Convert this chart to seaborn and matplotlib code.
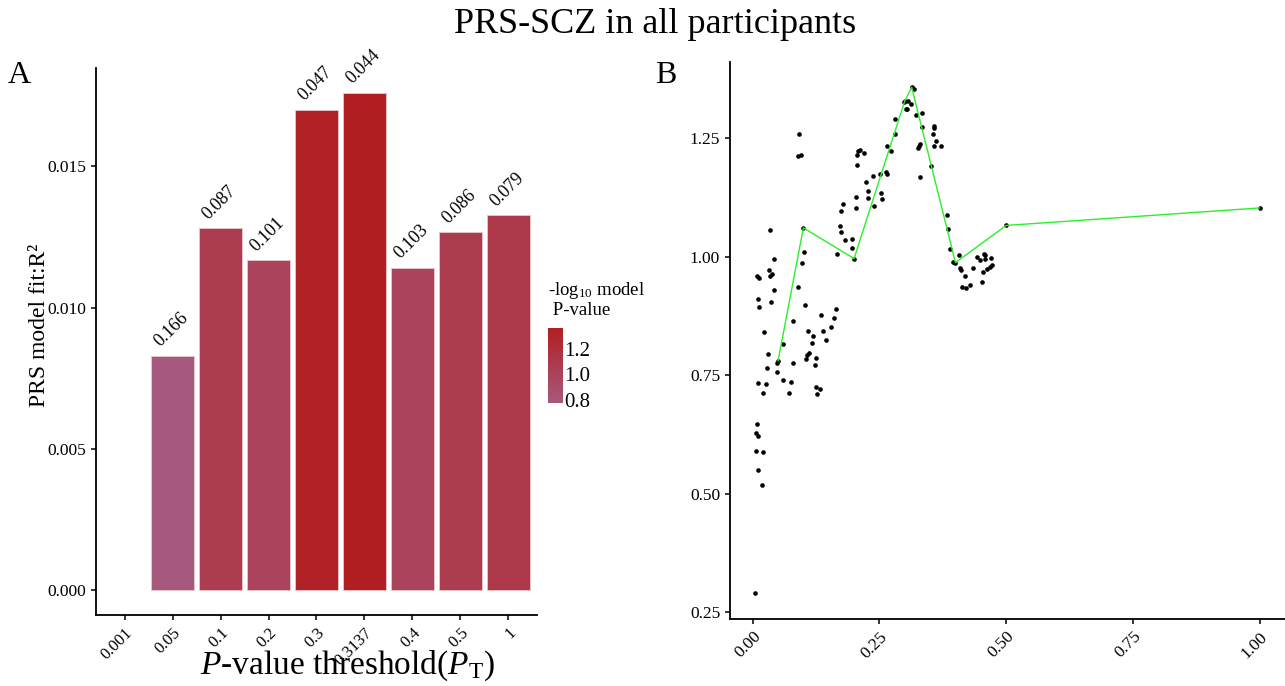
import numpy as np
import pandas as pd
import matplotlib
matplotlib.use("Agg")
import matplotlib.pyplot as plt
import seaborn as sns
from matplotlib.colors import LinearSegmentedColormap, Normalize
from matplotlib.cm import ScalarMappable

# ---------------- data ----------------
thresholds = ["0.001", "0.05", "0.1", "0.2", "0.3", "0.3137", "0.4", "0.5", "1"]
bar_thresholds = ["0.05", "0.1", "0.2", "0.3", "0.3137", "0.4", "0.5", "1"]
r2_values = [0.0083, 0.0128, 0.01167, 0.0170, 0.0176, 0.01141, 0.01266, 0.01327]
p_values = [0.166, 0.087, 0.101, 0.047, 0.044, 0.103, 0.086, 0.079]
p_labels = ["0.166", "0.087", "0.101", "0.047", "0.044", "0.103", "0.086", "0.079"]
line_x = [0.05, 0.1, 0.2, 0.3, 0.3137, 0.4, 0.5, 1.0]

scan_x = [0.091, 0.089, 0.096, 0.207, 0.211, 0.219, 0.206, 0.205, 0.224, 0.227,
          0.227, 0.204, 0.178, 0.175, 0.204, 0.034, 0.173, 0.175, 0.183, 0.196,
          0.196, 0.166, 0.102, 0.097, 0.042,
          0.032, 0.039, 0.035, 0.008, 0.012, 0.043, 0.089, 0.011, 0.036, 0.012,
          0.104, 0.165, 0.135, 0.161, 0.080, 0.154, 0.109, 0.139, 0.022, 0.119,
          0.145, 0.116, 0.060, 0.030, 0.112, 0.108, 0.106, 0.124, 0.048, 0.079,
          0.123, 0.028, 0.048, 0.060, 0.075, 0.010, 0.026, 0.021, 0.071, 0.124,
          0.133, 0.127,
          0.009, 0.007, 0.011, 0.006, 0.020, 0.010, 0.018, 0.005,
          0.319, 0.299, 0.306, 0.312, 0.303, 0.304, 0.322, 0.333, 0.281, 0.334,
          0.358, 0.358, 0.281, 0.355, 0.362, 0.372, 0.358, 0.331, 0.329, 0.327,
          0.265, 0.273, 0.352, 0.252, 0.262, 0.264, 0.238, 0.331, 0.254, 0.255,
          0.239, 0.383,
          0.385, 0.390, 0.407, 0.396, 0.409, 0.411, 0.419, 0.413, 0.421, 0.428,
          0.435, 0.442, 0.449, 0.457, 0.458, 0.459, 0.470, 0.454, 0.463, 0.469,
          0.472, 0.453]
scan_y = [1.258, 1.212, 1.215, 1.222, 1.224, 1.218, 1.213, 1.193, 1.157, 1.139,
          1.123, 1.125, 1.111, 1.095, 1.102, 1.055, 1.065, 1.051, 1.035, 1.037,
          1.017, 1.005, 1.009, 0.986, 0.994,
          0.972, 0.964, 0.960, 0.960, 0.954, 0.929, 0.936, 0.911, 0.905, 0.893,
          0.898, 0.890, 0.877, 0.871, 0.864, 0.851, 0.844, 0.843, 0.840, 0.832,
          0.823, 0.818, 0.816, 0.794, 0.797, 0.792, 0.784, 0.786, 0.775, 0.775,
          0.772, 0.765, 0.756, 0.740, 0.735, 0.734, 0.732, 0.713, 0.713, 0.724,
          0.720, 0.710,
          0.648, 0.629, 0.622, 0.590, 0.588, 0.549, 0.519, 0.290,
          1.354, 1.326, 1.328, 1.321, 1.310, 1.312, 1.299, 1.303, 1.289, 1.273,
          1.275, 1.271, 1.259, 1.258, 1.243, 1.232, 1.234, 1.238, 1.233, 1.229,
          1.232, 1.222, 1.191, 1.174, 1.179, 1.174, 1.169, 1.167, 1.134, 1.121,
          1.107, 1.088,
          1.057, 1.015, 1.004, 0.989, 0.975, 0.971, 0.959, 0.936, 0.933, 0.941,
          0.975, 1.000, 0.992, 1.006, 0.994, 1.004, 0.997, 0.967, 0.974, 0.978,
          0.982, 0.946]

a_yticks = [0.000, 0.005, 0.010, 0.015]
b_xticks = [0.00, 0.25, 0.50, 0.75, 1.00]
b_yticks = [0.25, 0.50, 0.75, 1.00, 1.25]
cbar_ticks = [0.8, 1.0, 1.2]

# ---------------- style ----------------
sns.set_theme(style="ticks")
plt.rcParams["font.family"] = ["Liberation Serif", "DejaVu Serif"]
plt.rcParams["mathtext.fontset"] = "custom"
plt.rcParams["mathtext.rm"] = "Liberation Serif"
plt.rcParams["mathtext.it"] = "Liberation Serif:italic"
plt.rcParams["axes.linewidth"] = 1.3
plt.rcParams["xtick.major.width"] = 1.1
plt.rcParams["ytick.major.width"] = 1.1
plt.rcParams["xtick.major.size"] = 3.5
plt.rcParams["ytick.major.size"] = 3.5
plt.rcParams["xtick.color"] = "black"
plt.rcParams["ytick.color"] = "black"
plt.rcParams["xtick.labelcolor"] = "black"
plt.rcParams["ytick.labelcolor"] = "black"
plt.rcParams["axes.edgecolor"] = "black"
plt.rcParams["text.color"] = "black"
plt.rcParams["axes.labelcolor"] = "black"

neglog = -np.log10(np.array(p_values))
cmap = LinearSegmentedColormap.from_list("prs", ["#A6597D", "#B21F22"])
norm = Normalize(vmin=neglog.min(), vmax=neglog.max())
palette = {t: cmap(norm(v)) for t, v in zip(bar_thresholds, neglog)}

fig = plt.figure(figsize=(12.85, 6.86), dpi=100)

# ---------------- panel A ----------------
axA = fig.add_axes([0.0747, 0.1035, 0.3432, 0.7974])
dfA = pd.DataFrame({"threshold": bar_thresholds, "r2": r2_values})
sns.barplot(data=dfA, x="threshold", y="r2", order=thresholds, hue="threshold",
            hue_order=bar_thresholds, palette=palette, legend=False, width=0.9,
            saturation=1, edgecolor="#e8c8cc", linewidth=0.6, ax=axA)
for t, v, lab in zip(bar_thresholds, r2_values, p_labels):
    axA.annotate(lab, (thresholds.index(t), v), xytext=(-1, 4),
                 textcoords="offset points", rotation=45, ha="center",
                 va="bottom", fontsize=13, color="black")
axA.set_xlim(-0.6, 8.6)
axA.set_ylim(-0.00088, 0.01848)
axA.set_yticks(a_yticks)
axA.set_yticklabels([f"{v:.3f}" for v in a_yticks], fontsize=12.5)
axA.set_xticks(range(len(thresholds)))
axA.set_xticklabels(thresholds, rotation=45, ha="right", rotation_mode="anchor",
                    fontsize=12)
axA.set_ylabel("PRS model fit:R\u00b2", fontsize=17)
axA.yaxis.set_label_coords(-0.105, 0.53)
axA.set_xlabel(r"$\it{P}$-value threshold($\it{P}_{\rm T}$)", fontsize=24)
axA.xaxis.set_label_coords(0.57, -0.062)
sns.despine(ax=axA)

# colorbar
cax = fig.add_axes([0.4265, 0.4125, 0.0117, 0.109])
sm = ScalarMappable(norm=norm, cmap=cmap)
cb = fig.colorbar(sm, cax=cax, ticks=cbar_ticks)
cb.outline.set_visible(False)
cb.ax.tick_params(length=3, width=0.8, color="white", direction="in",
                  labelsize=15, pad=1)
cb.ax.set_yticklabels(["0.8", "1.0", "1.2"])
fig.text(0.4265, 0.535, "-log$_{10}$ model\n P-value", fontsize=13.5,
         ha="left", va="bottom", linespacing=1.1)

# ---------------- panel B ----------------
axB = fig.add_axes([0.568, 0.0977, 0.432, 0.8119])
sns.scatterplot(x=scan_x, y=scan_y, color="black", s=11, linewidth=0, ax=axB)
sns.scatterplot(x=line_x, y=neglog, color="black", s=11, linewidth=0, ax=axB)
sns.lineplot(x=line_x, y=neglog, color="#2BEF2B", linewidth=1.0, sort=False,
             estimator=None, ax=axB)
axB.set_xlim(-0.045, 1.05)
axB.set_ylim(0.236, 1.41)
axB.set_xticks(b_xticks)
axB.set_xticklabels([f"{v:.2f}" for v in b_xticks], rotation=45, ha="right",
                    rotation_mode="anchor", fontsize=12.5)
axB.set_yticks(b_yticks)
axB.set_yticklabels([f"{v:.2f}" for v in b_yticks], fontsize=12.5)
axB.set_xlabel("")
axB.set_ylabel("")
sns.despine(ax=axB)

# ---------------- titles ----------------
fig.text(0.51, 0.965, "PRS-SCZ in all participants", fontsize=26,
         ha="center", va="center")
fig.text(0.006, 0.89, "A", fontsize=23, ha="left", va="center")
fig.text(0.510, 0.89, "B", fontsize=23, ha="left", va="center")

fig.savefig("out.png", dpi=100)
